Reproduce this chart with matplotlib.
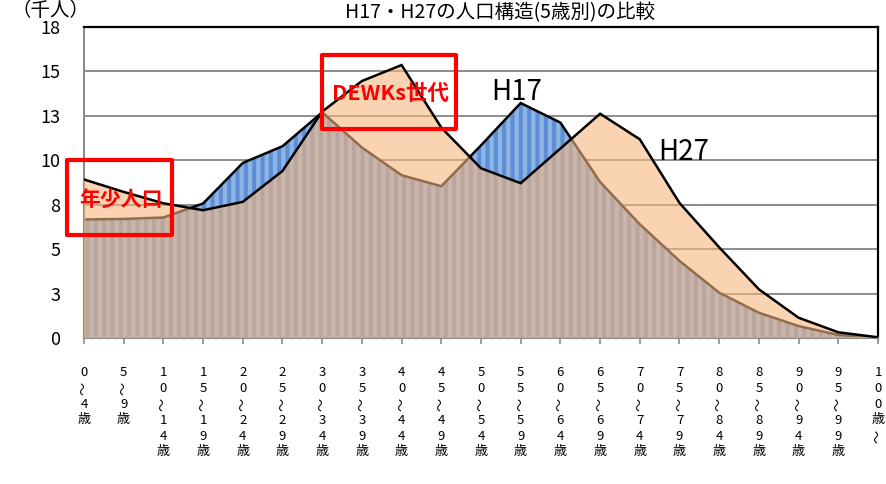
import numpy as np
import matplotlib
matplotlib.use("Agg")
import matplotlib.pyplot as plt
from matplotlib.patches import Rectangle

plt.rcParams['font.family'] = ['Noto Sans CJK JP', 'DejaVu Sans']
plt.rcParams['hatch.linewidth'] = 2.9
plt.rcParams['hatch.color'] = '#5B8FD5'

# ---- data (thousand persons) ----
age_labels = ["0～4歳", "5～9歳", "10～14歳", "15～19歳", "20～24歳", "25～29歳",
              "30～34歳", "35～39歳", "40～44歳", "45～49歳", "50～54歳", "55～59歳",
              "60～64歳", "65～69歳", "70～74歳", "75～79歳", "80～84歳", "85～89歳",
              "90～94歳", "95～99歳", "100歳～"]
h17 = [6.67, 6.70, 6.78, 7.57, 9.85, 10.79, 12.70, 10.72, 9.16, 8.54, 10.84,
       13.22, 12.12, 8.78, 6.40, 4.34, 2.55, 1.42, 0.67, 0.17, 0.02]
h27 = [8.92, 8.22, 7.58, 7.19, 7.66, 9.40, 12.74, 14.46, 15.36, 11.84, 9.55,
       8.71, 10.66, 12.62, 11.18, 7.60, 5.10, 2.74, 1.14, 0.32, 0.04]
y_ticks = [0, 2.5, 5, 7.5, 10, 12.5, 15, 17.5]
y_tick_labels = ['0', '3', '5', '8', '10', '13', '15', '18']
series_names = ['H17', 'H27']
title = 'H17・H27の人口構造(5歳別)の比較'
unit_label = '（千人）'
box_labels = ['年少人口', 'DEWKs世代']

W, H = 887, 484
fig = plt.figure(figsize=(W / 100, H / 100), dpi=100)
L, R, T, B = 84, 878, 27, 338
ax = fig.add_axes([L / W, 1 - B / H, (R - L) / W, (B - T) / H])

x = np.arange(len(age_labels))

# H17 striped area (opaque)
ax.fill_between(x, 0, h17, facecolor='#8FB4E3', edgecolor='#5B8FD5',
                hatch='||', linewidth=0, zorder=2)
ax.plot(x, h17, color='black', lw=1.8, zorder=2.5, solid_joinstyle='miter')
# H27 translucent peach area on top
ax.fill_between(x, 0, h27, facecolor='#F5B67F', alpha=0.6, linewidth=0, zorder=3)
ax.plot(x, h27, color='black', lw=1.8, zorder=4, solid_joinstyle='miter')

ax.set_xlim(0, len(age_labels) - 1)
ax.set_ylim(0, 17.5)
ax.set_yticks(y_ticks)
ax.set_yticklabels(y_tick_labels, fontsize=13)
ax.tick_params(axis='y', length=0, pad=17)
ax.set_xticks(x)
ax.set_xticklabels([''] * len(x))
ax.tick_params(axis='x', length=4, width=1.2, color='#8c8c8c', direction='out')

ax.set_axisbelow(True)
ax.yaxis.grid(True, color='#8c8c8c', lw=1.4, zorder=0.5)
for s in ['top', 'right']:
    ax.spines[s].set_color('black')
    ax.spines[s].set_linewidth(1.6)
for s in ['left', 'bottom']:
    ax.spines[s].set_color('#8c8c8c')
    ax.spines[s].set_linewidth(1.5)
ax.spines['top'].set_zorder(5)

# vertical category labels (one character per line)
row0, row_h = 34, 16
for i, lab in enumerate(age_labels):
    for j, ch in enumerate(lab):
        ax.annotate(ch, xy=(i, 0), xycoords=('data', 'axes fraction'),
                    xytext=(0, -(row0 + j * row_h)), textcoords='offset pixels',
                    ha='center', va='center', fontsize=9.5,
                    rotation=90 if ch == '～' else 0, annotation_clip=False)

# title and unit
fig.text(500 / W, 1 - 13 / H, title, ha='center', va='center', fontsize=14)
fig.text(51 / W, 1 - 10 / H, unit_label, ha='center', va='center', fontsize=14)

# series labels
ax.text(10.91, 13.84, series_names[0], ha='center', va='center', fontsize=20, zorder=6)
ax.text(15.11, 10.48, series_names[1], ha='center', va='center', fontsize=20, zorder=6)

# red highlight boxes
for (x0, x1, y0, y1) in [(-0.43, 2.22, 5.81, 10.0), (6.0, 9.38, 11.78, 15.91)]:
    ax.add_patch(Rectangle((x0, y0), x1 - x0, y1 - y0, fill=False,
                           edgecolor='#FF0000', lw=3.0, zorder=7, clip_on=False,
                           joinstyle='round'))
ax.text(0.92, 7.82, box_labels[0], color='#FF0000', fontsize=15,
        fontweight='bold', fontstyle='italic', ha='center', va='center', zorder=8)
ax.text(7.73, 13.77, box_labels[1], color='#FF0000', fontsize=15.5,
        fontweight='bold', fontstyle='italic', ha='center', va='center', zorder=8)

fig.savefig('out.png', dpi=100)
